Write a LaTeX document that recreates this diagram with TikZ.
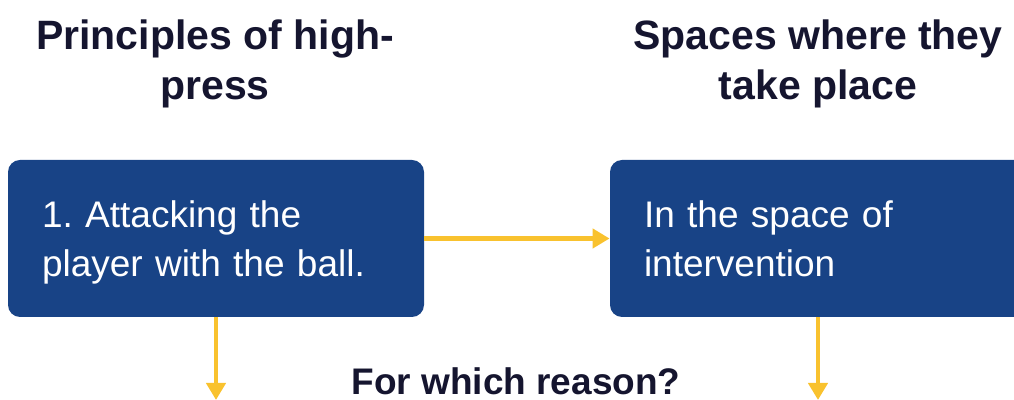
\documentclass[tikz,border=0pt]{standalone}
\usepackage{fontspec}
\setmainfont{Liberation Sans}
\usepackage{tikz}
\usetikzlibrary{positioning,arrows.meta}
\definecolor{boxblue}{HTML}{184386}
\definecolor{arrowgold}{HTML}{F9C22E}
\definecolor{headink}{HTML}{15152F}
\frenchspacing

\begin{document}
\begin{tikzpicture}[x=0.5pt, y=-0.5pt,
box/.style={rectangle, rounded corners=6pt, fill=boxblue, text=white, minimum width=208pt, minimum height=78.5pt, text width=174pt, inner xsep=17pt, text height=5pt, text depth=15.5pt, align=left, font=\fontsize{18.5}{24.5}\selectfont},
title/.style={align=center, text=headink, font=\fontsize{20.5}{25}\selectfont\bfseries},
link/.style={draw=arrowgold, line width=2.4pt, -{Triangle[length=8.5pt,width=9.5pt]}}]
\clip (0,0) rectangle (1014,400);
% headings
\node[title] (t1) at (215,64) {Principles of high-\\press};
\node[title] (t2) at (818,64) {Spaces where they\\take place};
% boxes
\node[box] (1) at (216,238.5) {1. Attacking the\\player with the ball.};
\node[box] (2) at (818,238.5) {In the space of\\intervention};
\node[title, anchor=base, inner sep=0pt, font=\fontsize{18.5}{24}\selectfont\bfseries] (3) at (516,395) {For which reason?};
\coordinate (1end) at (1.south |- 0,400);
\coordinate (2end) at (2.south |- 0,400);
\draw[link] (1) -- (2);
\draw[link] (1.south) -- (1end);
\draw[link] (2.south) -- (2end);
\end{tikzpicture}
\end{document}
